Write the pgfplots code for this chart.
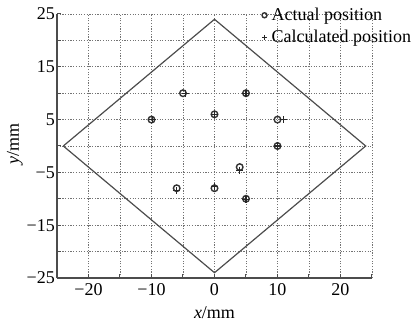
\documentclass[border=0pt]{standalone}
\usepackage{pgfplots}
\pgfplotsset{compat=1.18}
\usepackage{fontspec}
\setmainfont{Liberation Serif}
\begin{document}
\begin{tikzpicture}[x=1pt,y=1pt]
\useasboundingbox (-57,-45) rectangle (359,278);
\begin{axis}[
  scale only axis, width=315pt, height=264pt,
  xmin=-25, xmax=25, ymin=-25, ymax=25,
  axis x line*=bottom, axis y line*=left,
  axis line style={-, gray!60!black, line width=1.3pt},
  xtick={-25,-20,...,25}, ytick={-25,-20,...,25},
  xticklabels={,−20,,−10,,0,,10,,20,},
  yticklabels={−25,,−15,,−5,,5,,15,,25},
  tick align=inside, major tick length=4pt,
  tick style={gray!60!black, line width=1pt},
  grid=major,
  grid style={black!55, line width=0.9pt, dash pattern=on 1.2pt off 1.5pt},
  ticklabel style={font=\fontsize{18}{18}\selectfont, inner sep=2pt},
  xticklabel style={yshift=-3pt},
  xlabel={\textit{x}/mm},
  label style={font=\fontsize{18}{18}\selectfont},
  x label style={at={(axis description cs:0.5,-0.133)}, anchor=center},
  legend style={at={(axis description cs:0.648,1.03)}, anchor=north west,
    draw=none, fill=none, inner sep=0pt,
    font=\fontsize{18}{18}\selectfont,
    nodes={inner sep=2pt}, row sep=4pt},
  legend cell align=left,
  legend image code/.code={\path (0pt,0pt) (8pt,0pt);
    \draw[#1, mark size=2.5pt] plot coordinates {(3pt,0pt)};},
]
\addplot[gray!60!black, line width=1.2pt, forget plot] coordinates {(-24,0) (0,24) (24,0) (0,-24) (-24,0)};
\addplot[only marks, mark=o, mark size=3.3pt, mark options={line width=1.4pt, draw=black!80}] coordinates {
(-5,10) (5,10) (-10,5) (0,6) (10,5) (10,0) (4,-4) (-6,-8) (0,-8) (5,-10)};
\addlegendentry{Actual position}
\addplot[only marks, mark=+, mark size=3.5pt, mark options={line width=1.1pt, draw=black!85}] coordinates {
(-4.6,10) (5,10) (-9.8,5) (0,6) (10.9,5) (10,0) (4,-4.6) (-6.1,-8.4) (0,-7.6) (5,-10.2)};
\addlegendentry{Calculated position}
\end{axis}
\node[rotate=90, font=\fontsize{18}{18}\selectfont, anchor=center] at (-42,134) {\textit{y}/mm};
\end{tikzpicture}
\end{document}
